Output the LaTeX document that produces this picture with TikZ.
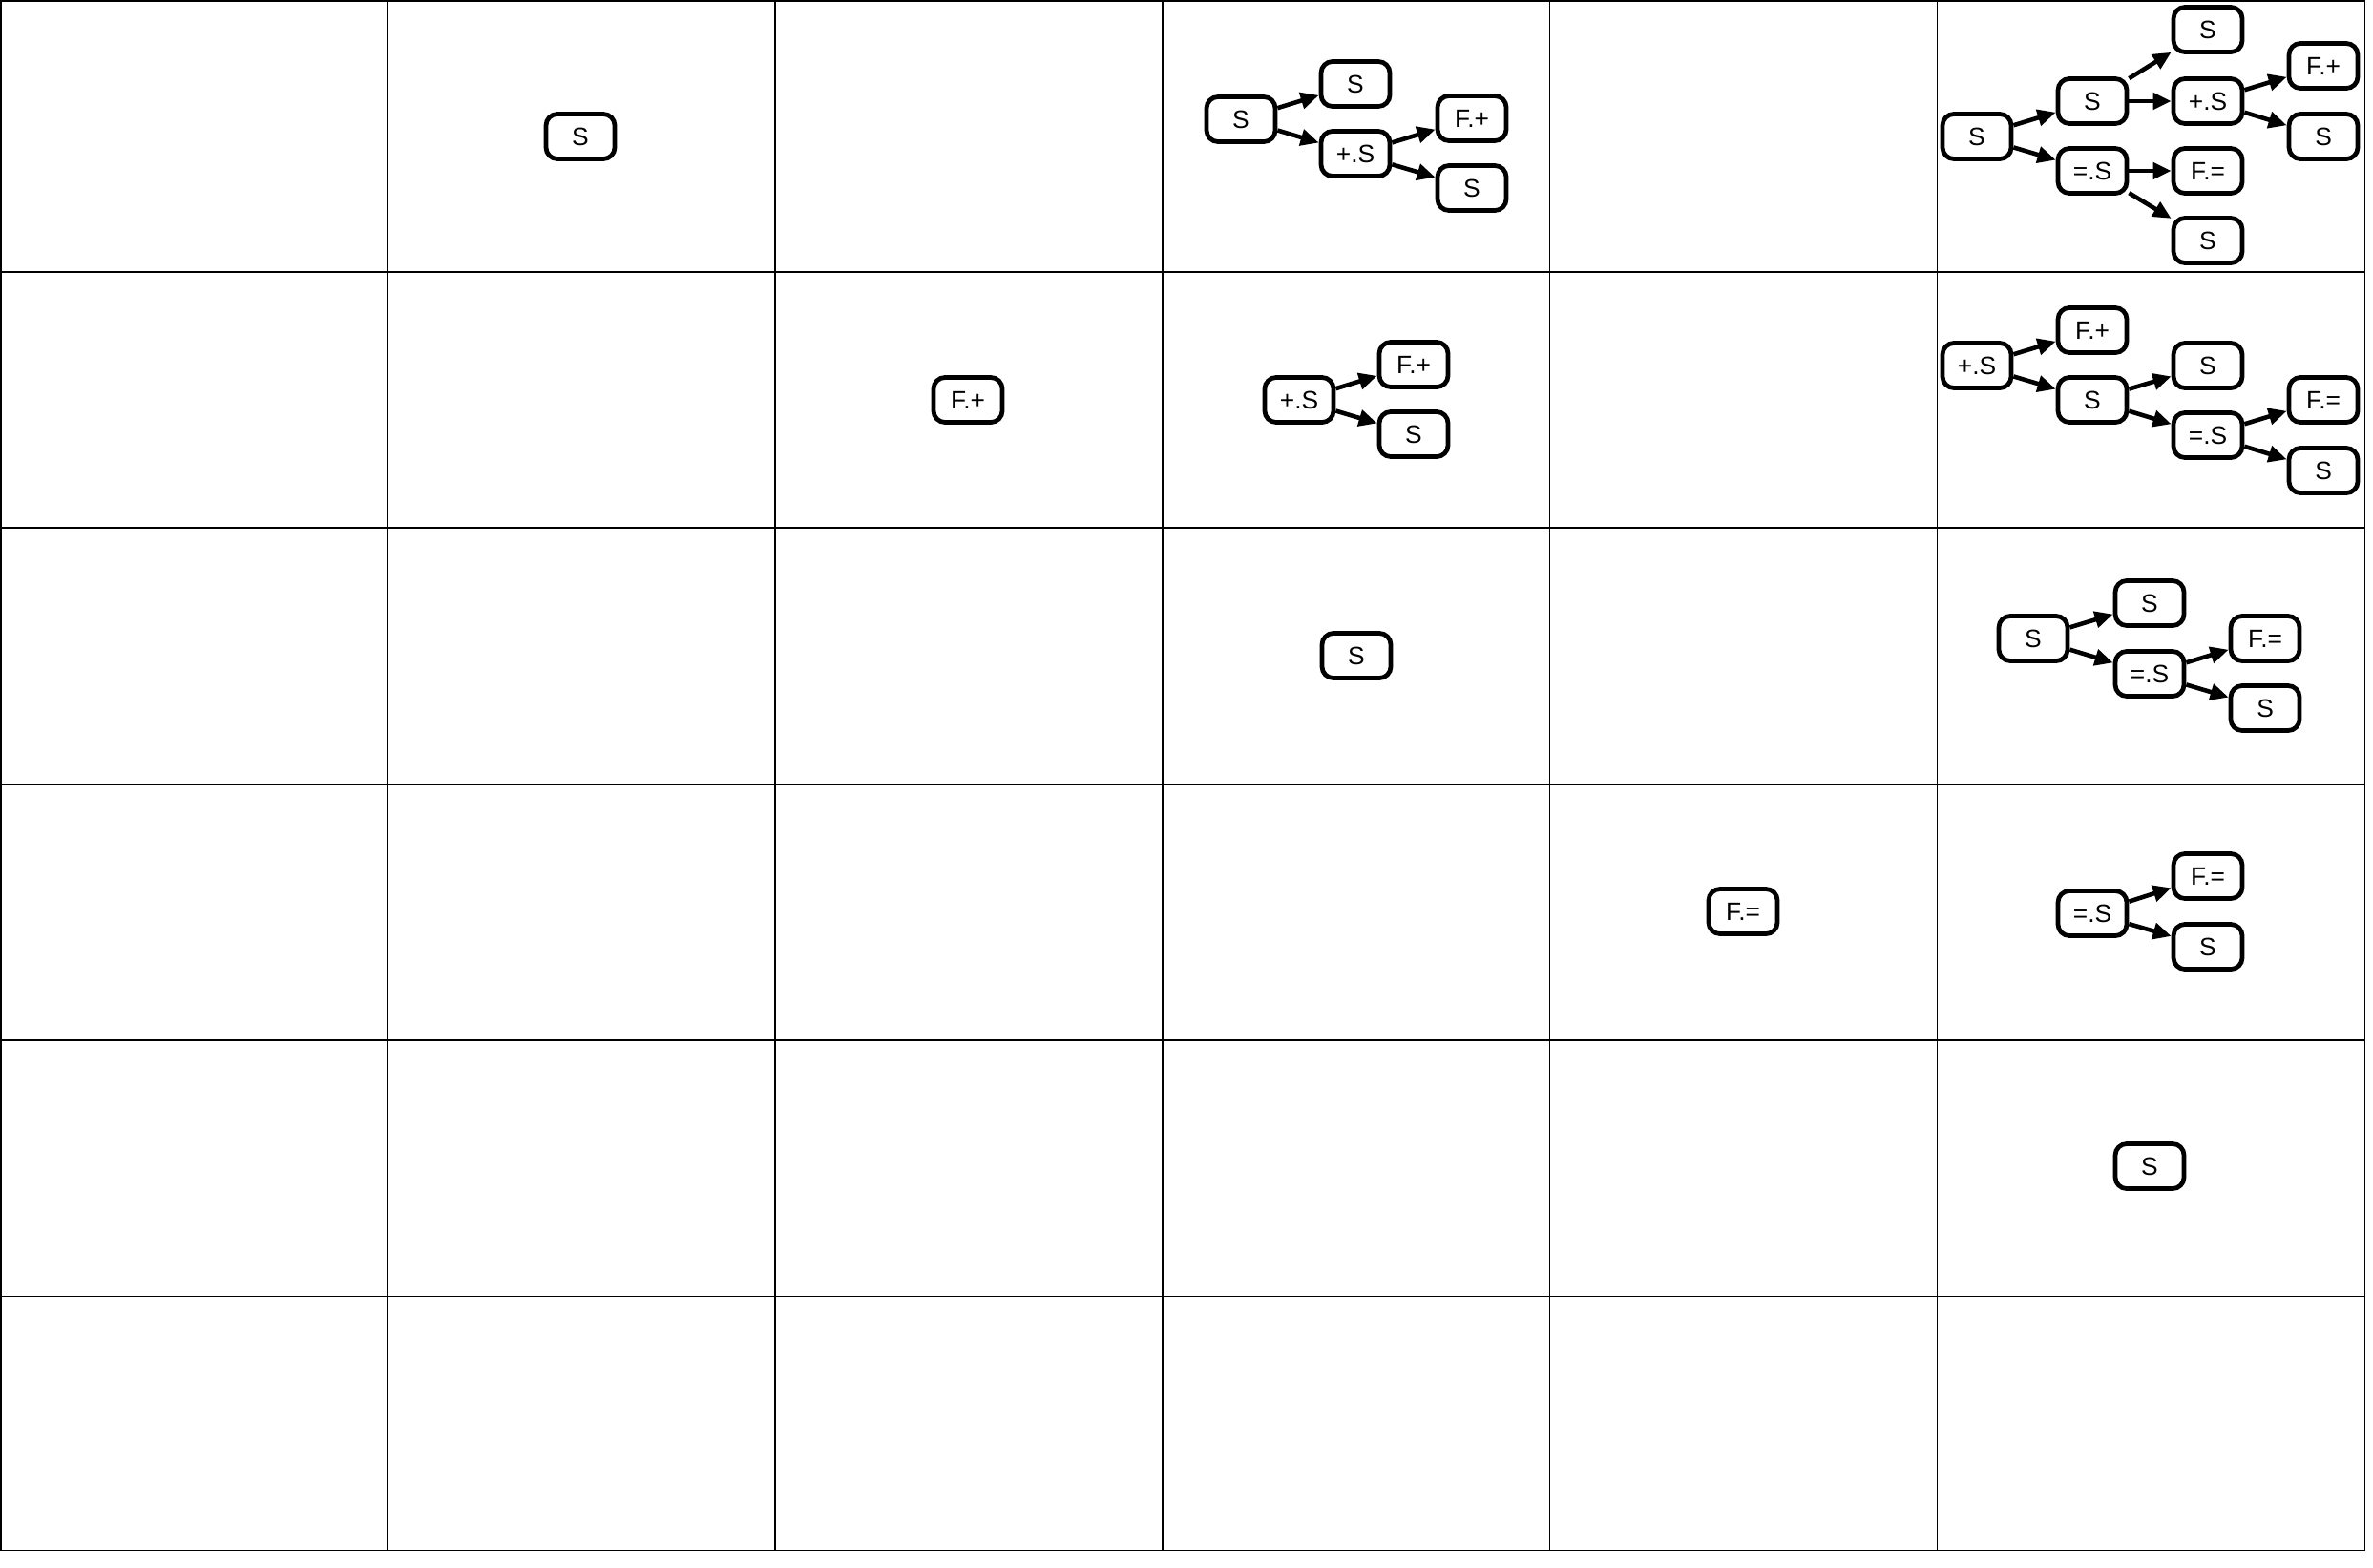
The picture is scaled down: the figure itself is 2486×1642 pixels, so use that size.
\documentclass[tikz,border=0pt]{standalone}
\usepackage{fontspec}
\setmainfont{Liberation Sans}
\usetikzlibrary{arrows.meta}

\begin{document}
\begin{tikzpicture}[x=0.01cm, y=-0.01cm,
  box/.style={draw, line width=1.35pt, rounded corners=0.12cm, minimum width=0.72cm, minimum height=0.47cm, inner sep=0pt, font=\fontsize{7.5}{8}\selectfont},
  edge/.style={line width=1.3pt, ->},
  >={Triangle[length=0.19cm,width=0.17cm]}]
\useasboundingbox (0,0) rectangle (2486,1642);
% table
\draw[line width=0.3pt] (1,1) rectangle (2477,1624);
\draw[line width=0.3pt] (1,285) -- (2477,285);
\draw[line width=0.3pt] (1,553) -- (2477,553);
\draw[line width=0.3pt] (1,822) -- (2477,822);
\draw[line width=0.3pt] (1,1090) -- (2477,1090);
\draw[line width=0.3pt] (1,1358) -- (2477,1358);
\draw[line width=0.3pt] (406,1) -- (406,1624);
\draw[line width=0.3pt] (812,1) -- (812,1624);
\draw[line width=0.3pt] (1218,1) -- (1218,1624);
\draw[line width=0.3pt] (1623,1) -- (1623,1624);
\draw[line width=0.3pt] (2029,1) -- (2029,1624);

% single nodes
\node[box] (a2) at (608,143) {S};
\node[box] (b3) at (1014,419) {F.+};
\node[box] (c4) at (1421,687) {S};
\node[box] (d5) at (1826,955) {F.=};
\node[box] (e6) at (2252,1222) {S};

% row 1, column 4
\node[box] (a4s) at (1300,125) {S};
\node[box] (a4top) at (1420,88) {S};
\node[box] (a4plus) at (1420,161) {+.S};
\node[box] (a4fp) at (1542,124) {F.+};
\node[box] (a4bot) at (1542,197) {S};
\draw[edge] (a4s) -- (a4top);
\draw[edge] (a4s) -- (a4plus);
\draw[edge] (a4plus) -- (a4fp);
\draw[edge] (a4plus) -- (a4bot);

% row 1, column 6
\node[box] (a6s) at (2071,143) {S};
\node[box] (a6mid) at (2192,106) {S};
\node[box] (a6eq) at (2192,179) {=.S};
\node[box] (a6top) at (2313,31) {S};
\node[box] (a6plus) at (2313,106) {+.S};
\node[box] (a6fe) at (2313,179) {F.=};
\node[box] (a6bot) at (2313,252) {S};
\node[box] (a6fp) at (2434,69) {F.+};
\node[box] (a6end) at (2434,143) {S};
\draw[edge] (a6s) -- (a6mid);
\draw[edge] (a6s) -- (a6eq);
\draw[edge] (a6mid) -- (a6top);
\draw[edge] (a6mid) -- (a6plus);
\draw[edge] (a6plus) -- (a6fp);
\draw[edge] (a6plus) -- (a6end);
\draw[edge] (a6eq) -- (a6fe);
\draw[edge] (a6eq) -- (a6bot);

% row 2, column 4
\node[box] (b4plus) at (1361,419) {+.S};
\node[box] (b4fp) at (1481,382) {F.+};
\node[box] (b4s) at (1481,455) {S};
\draw[edge] (b4plus) -- (b4fp);
\draw[edge] (b4plus) -- (b4s);

% row 2, column 6
\node[box] (b6plus) at (2071,383) {+.S};
\node[box] (b6fp) at (2192,346) {F.+};
\node[box] (b6s) at (2192,419) {S};
\node[box] (b6top) at (2313,383) {S};
\node[box] (b6eq) at (2313,456) {=.S};
\node[box] (b6fe) at (2434,419) {F.=};
\node[box] (b6end) at (2434,493) {S};
\draw[edge] (b6plus) -- (b6fp);
\draw[edge] (b6plus) -- (b6s);
\draw[edge] (b6s) -- (b6top);
\draw[edge] (b6s) -- (b6eq);
\draw[edge] (b6eq) -- (b6fe);
\draw[edge] (b6eq) -- (b6end);

% row 3, column 6
\node[box] (c6s) at (2130,669) {S};
\node[box] (c6top) at (2252,632) {S};
\node[box] (c6eq) at (2252,706) {=.S};
\node[box] (c6fe) at (2373,669) {F.=};
\node[box] (c6bot) at (2373,742) {S};
\draw[edge] (c6s) -- (c6top);
\draw[edge] (c6s) -- (c6eq);
\draw[edge] (c6eq) -- (c6fe);
\draw[edge] (c6eq) -- (c6bot);

% row 4, column 6
\node[box] (d6eq) at (2192,957) {=.S};
\node[box] (d6fe) at (2313,918) {F.=};
\node[box] (d6s) at (2313,992) {S};
\draw[edge] (d6eq) -- (d6fe);
\draw[edge] (d6eq) -- (d6s);
\end{tikzpicture}
\end{document}
